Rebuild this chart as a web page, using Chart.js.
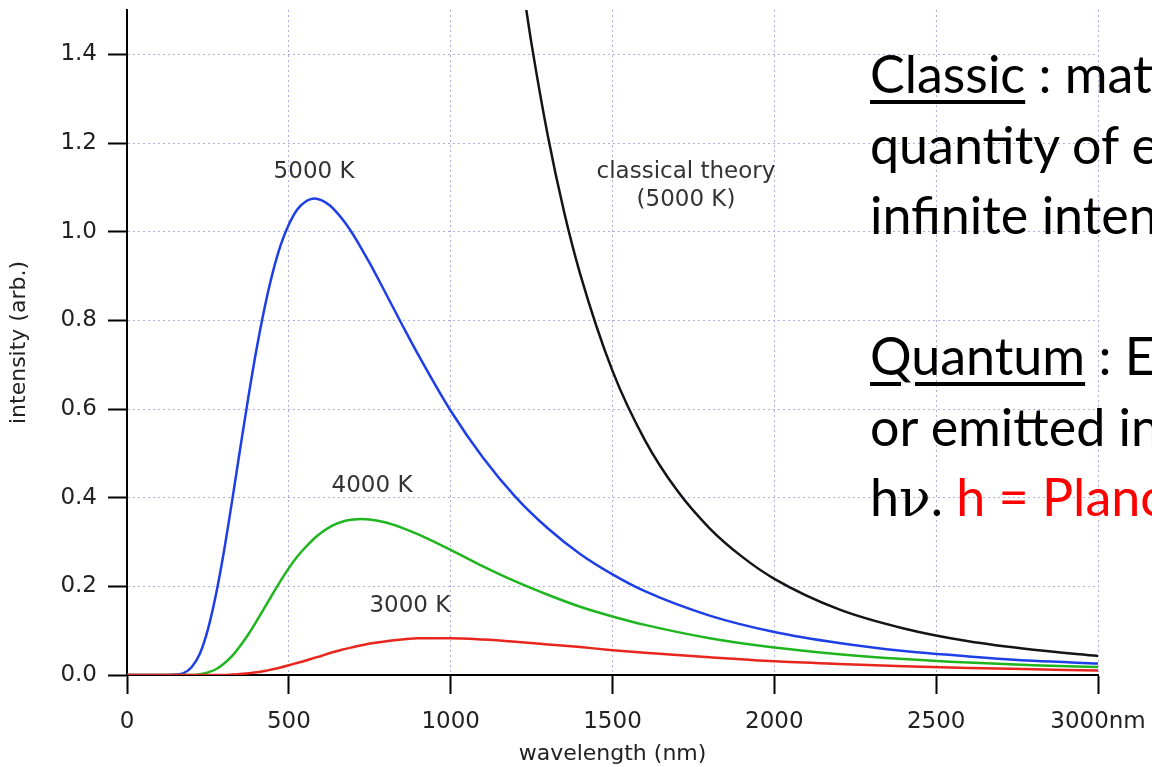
<!DOCTYPE html>
<html>
<head>
<meta charset="utf-8">
<title>Blackbody radiation</title>
<script src="https://cdn.jsdelivr.net/npm/chart.js@4.4.1/dist/chart.umd.min.js"></script>
<style>
  html, body { margin: 0; padding: 0; background: #fff; overflow: hidden; }
  #wrap { position: relative; width: 1152px; height: 767px; overflow: hidden; }
  #notes {
    position: absolute; left: 870px; top: 38px;
    white-space: nowrap;
    font-family: Lato, "Open Sans", sans-serif;
    font-size: 52px; line-height: 70.5px; color: #000;
  }
  #notes u { text-decoration-thickness: 4px; text-underline-offset: 7px; }
  .nu { font-family: "DejaVu Serif", serif; }
  .red { color: #f00; }
</style>
</head>
<body>
<div id="wrap">
  <canvas id="planck"></canvas>
  <div id="notes">
    <u>Classic</u> : matter<br>
    quantity of energy<br>
    infinite intensity<br>
    <br>
    <u>Quantum</u> : Energy<br>
    or emitted in<br>
    h<span class="nu">ν</span>. <span class="red">h = Planck</span>
  </div>
</div>

<script>
// wavelength samples (nm) for the three blackbody curves
const wavelengths = [0, 100, 150, 175, 200, 225, 250, 275, 300, 325,
  350, 375, 400, 425, 450, 475, 500, 525, 550, 580, 600, 625, 650, 675, 700, 725, 750, 800,
  850, 900, 1000, 1100, 1200, 1300, 1400, 1500, 1600, 1800, 2000, 2200, 2400, 2600, 2800, 3000];

const intensity5000 = [0, 0, 0.001, 0.004, 0.018, 0.048, 0.103, 0.182, 0.281, 0.394,
  0.512, 0.627, 0.734, 0.828, 0.907, 0.970, 1.016, 1.049, 1.067, 1.075, 1.071, 1.060, 1.042, 1.019, 0.992, 0.961, 0.929, 0.860,
  0.790, 0.722, 0.596, 0.490, 0.402, 0.331, 0.273, 0.227, 0.189, 0.134, 0.097, 0.072, 0.054, 0.042, 0.032, 0.026];

const intensity4000 = [0, 0, 0, 0, 0, 0.002, 0.006, 0.013, 0.026, 0.043,
  0.066, 0.092, 0.121, 0.152, 0.183, 0.213, 0.241, 0.266, 0.287, 0.309, 0.321, 0.333, 0.342, 0.348, 0.351, 0.352, 0.351, 0.344,
  0.332, 0.317, 0.282, 0.245, 0.211, 0.181, 0.154, 0.132, 0.113, 0.083, 0.062, 0.047, 0.036, 0.028, 0.022, 0.018];

const intensity3000 = [0, 0, 0, 0, 0, 0, 0, 0, 0, 0.001,
  0.002, 0.004, 0.006, 0.009, 0.013, 0.017, 0.022, 0.027, 0.032, 0.039, 0.043, 0.049, 0.054, 0.059, 0.063, 0.067, 0.071, 0.076,
  0.080, 0.083, 0.083, 0.080, 0.075, 0.069, 0.063, 0.056, 0.050, 0.040, 0.031, 0.025, 0.020, 0.016, 0.013, 0.010];

// classical (Rayleigh-Jeans) curve at 5000 K, from where it enters the plot
const classicalWavelengths = [1230, 1250, 1300, 1350, 1400, 1500, 1600, 1700, 1800, 1900,
  2000, 2200, 2400, 2600, 2800, 3000];
const classicalIntensity = [1.518, 1.423, 1.217, 1.046, 0.905, 0.686, 0.530, 0.416, 0.331, 0.267,
  0.217, 0.148, 0.105, 0.076, 0.057, 0.043];

const xTickValues = [0, 500, 1000, 1500, 2000, 2500, 3000];
const yTickValues = [0, 0.2, 0.4, 0.6, 0.8, 1.0, 1.2, 1.4];

// text placed next to each curve (nm, intensity)
const curveLabels = [
  { text: '5000 K', nm: 578, value: 1.135 },
  { text: '4000 K', nm: 757, value: 0.426 },
  { text: '3000 K', nm: 874, value: 0.156 },
  { text: 'classical theory', nm: 1727, value: 1.135 },
  { text: '(5000 K)', nm: 1727, value: 1.071 }
];

const toPoints = (xs, ys) => xs.map((x, i) => ({ x: x, y: ys[i] }));

const curveLabelPlugin = {
  id: 'curveLabels',
  afterDatasetsDraw(chart) {
    const { ctx, scales: { x, y } } = chart;
    ctx.save();
    ctx.font = '23px "DejaVu Sans", sans-serif';
    ctx.fillStyle = '#333';
    ctx.textAlign = 'center';
    ctx.textBaseline = 'middle';
    curveLabels.forEach(l => {
      ctx.fillText(l.text, x.getPixelForValue(l.nm), y.getPixelForValue(l.value));
    });
    ctx.restore();
  }
};

Chart.defaults.font.family = '"DejaVu Sans", sans-serif';
Chart.defaults.color = '#222';

const gridStyle = {
  color: '#aeaee2',
  lineWidth: 1,
  tickColor: '#000',
  tickWidth: 2,
  tickLength: 19,
  tickBorderDash: []
};
const borderStyle = { color: '#000', width: 2, dash: [2, 3] };

const lineStyle = {
  pointRadius: 0,
  borderWidth: 2.5,
  fill: false,
  cubicInterpolationMode: 'monotone'
};

new Chart(document.getElementById('planck'), {
  type: 'line',
  data: {
    datasets: [
      Object.assign({ label: '3000 K', data: toPoints(wavelengths, intensity3000), borderColor: '#e8261e' }, lineStyle),
      Object.assign({ label: '4000 K', data: toPoints(wavelengths, intensity4000), borderColor: '#1fb51f' }, lineStyle),
      Object.assign({ label: '5000 K', data: toPoints(wavelengths, intensity5000), borderColor: '#1f3fe6' }, lineStyle),
      Object.assign({ label: 'classical theory (5000 K)', data: toPoints(classicalWavelengths, classicalIntensity), borderColor: '#141414' }, lineStyle)
    ]
  },
  options: {
    responsive: true,
    maintainAspectRatio: false,
    animation: false,
    layout: { padding: { top: 10, right: 54, left: 0, bottom: 0 } },
    plugins: { legend: { display: false }, tooltip: { enabled: false } },
    scales: {
      x: {
        type: 'linear',
        min: 0, max: 3000,
        afterBuildTicks: s => { s.ticks = xTickValues.map(v => ({ value: v })); },
        afterFit: s => { s.height = 92; s.paddingLeft = 0; s.paddingRight = 0; },
        grid: gridStyle,
        border: borderStyle,
        ticks: {
          font: { size: 23 },
          padding: 14,
          maxRotation: 0,
          autoSkip: false,
          callback: v => (v === 3000 ? '3000nm' : String(v))
        },
        title: { display: true, text: 'wavelength (nm)', font: { size: 22 }, padding: { top: 0, bottom: 0 } }
      },
      y: {
        type: 'linear',
        min: 0, max: 1.5,
        afterBuildTicks: s => { s.ticks = yTickValues.map(v => ({ value: v })); },
        afterFit: s => { s.width = 127; s.paddingTop = 0; s.paddingBottom = 0; },
        grid: gridStyle,
        border: borderStyle,
        ticks: {
          font: { size: 23 },
          padding: 11,
          callback: v => v.toFixed(1)
        },
        title: { display: true, text: 'intensity (arb.)', font: { size: 22 }, padding: { top: 6, bottom: 0 } }
      }
    }
  },
  plugins: [curveLabelPlugin]
});
</script>
</body>
</html>
